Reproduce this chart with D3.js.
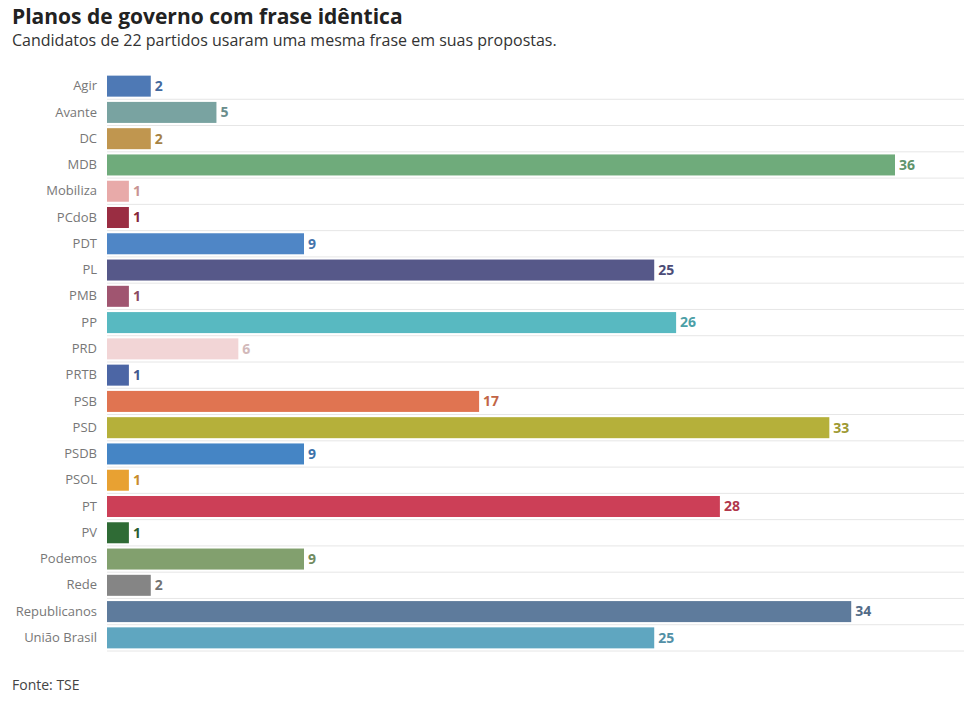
<!DOCTYPE html><html><head><meta charset="utf-8">
<script src="https://cdn.jsdelivr.net/npm/d3@7"></script>
<style>body{margin:0;background:#fff;font-family:"Open Sans",sans-serif}</style></head><body>
<svg width="964" height="706"></svg>
<script>
const parties=["Agir","Avante","DC","MDB","Mobiliza","PCdoB","PDT","PL","PMB","PP","PRD","PRTB","PSB","PSD","PSDB","PSOL","PT","PV","Podemos","Rede","Republicanos","União Brasil"];
const values=[2,5,2,36,1,1,9,25,1,26,6,1,17,33,9,1,28,1,9,2,34,25];
const colors=["#4e79b5","#79a3a1","#c0964f","#6fab7b","#e8aaa9","#9a2d42","#4f86c6","#565889","#a05570","#58b9c1","#f2d5d6","#4c66a5","#e07451","#b5b03a","#4585c5","#e8a132","#cc3f57","#2f6b35","#82a06e","#858585","#5e7b9c","#5fa6c0"];
const svg=d3.select("svg");
const x=d3.scaleLinear().domain([0,36]).range([107,895]);
const y=d3.scaleBand().domain(parties).range([73,651]).paddingInner(0.2).paddingOuter(0.1);
svg.append("text").attr("x",12).attr("y",24).attr("font-size",21).attr("font-weight",700).attr("fill","#222").text("Planos de governo com frase idêntica");
svg.append("text").attr("x",12).attr("y",46).attr("font-size",16).attr("fill","#333").text("Candidatos de 22 partidos usaram uma mesma frase em suas propostas.");
svg.append("g").selectAll("line").data(parties).join("line")
 .attr("x1",107).attr("x2",964).attr("y1",d=>y(d)+y.bandwidth()+y.step()*y.paddingInner()/2).attr("y2",d=>y(d)+y.bandwidth()+y.step()*y.paddingInner()/2)
 .attr("stroke","#e6e6e6");
const ax=svg.append("g").attr("transform","translate(100,0)").call(d3.axisLeft(y).tickSize(0).tickPadding(3));
ax.select(".domain").remove();
ax.selectAll("text").attr("font-size",13).attr("fill","#777").attr("font-family","Open Sans");
const d=parties.map((p,i)=>({p,v:values[i],c:colors[i]}));
svg.append("g").selectAll("rect").data(d).join("rect").attr("x",x(0)).attr("y",e=>y(e.p)).attr("height",y.bandwidth()).attr("width",e=>x(e.v)-x(0)).attr("fill",e=>e.c);
svg.append("g").selectAll("text").data(d).join("text").attr("x",e=>x(e.v)+4).attr("y",e=>y(e.p)+y.bandwidth()/2).attr("dy","0.35em")
 .attr("font-size",14).attr("font-weight",700).attr("fill",e=>d3.color(e.c).darker(0.4)).text(e=>e.v);
svg.append("text").attr("x",12).attr("y",690).attr("font-size",14).attr("fill","#444").text("Fonte: TSE");
</script></body></html>
